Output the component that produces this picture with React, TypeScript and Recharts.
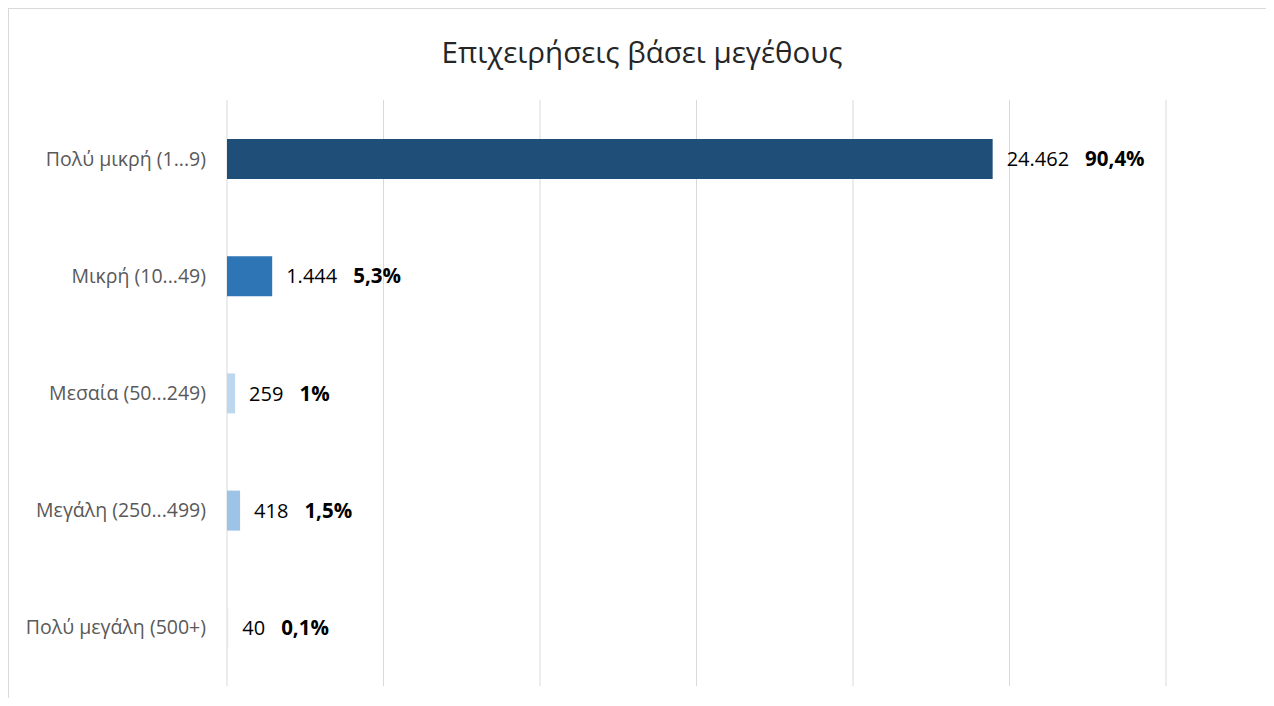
import React from "react";
import { BarChart, Bar, XAxis, YAxis, CartesianGrid, Cell, LabelList } from "recharts";

const categories = [
  "Πολύ μικρή (1...9)",
  "Μικρή (10...49)",
  "Μεσαία (50...249)",
  "Μεγάλη (250...499)",
  "Πολύ μεγάλη (500+)",
];
const counts = [24462, 1444, 259, 418, 40];
const shares = ["90,4%", "5,3%", "1%", "1,5%", "0,1%"];
const xTicks = [0, 5000, 10000, 15000, 20000, 25000, 30000];

const barColors = ["#1F4E79", "#2E75B6", "#BDD7EE", "#9DC3E6", "#DEEBF7"];
const FONT = "'Open Sans', 'Noto Sans', sans-serif";

const data = categories.map((name, i) => ({ name, value: counts[i], share: shares[i] }));

const fmt = (v: number) => v.toLocaleString("de-DE");

const ValueLabel = (props: any) => {
  const { x, y, width, height, index } = props;
  const d = data[index];
  return (
    <text
      x={x + width + 14}
      y={y + height / 2}
      dy="0.36em"
      fontFamily={FONT}
      fontSize={20}
      fill="#000"
    >
      <tspan>{fmt(d.value)}</tspan>
      <tspan dx={16} fontSize={20.5} fontWeight="bold">{d.share}</tspan>
    </text>
  );
};

export default function App() {
  return (
    <div style={{ width: 1266, height: 690, overflow: "hidden" }}>
      <div
        style={{
          position: "relative",
          width: 1300,
          height: 720,
          borderTop: "1px solid #d9d9d9",
          borderLeft: "1px solid #d9d9d9",
          background: "#fff",
        }}
      >
        <div
          style={{
            position: "absolute",
            top: 22,
            left: 0,
            width: 1266,
            textAlign: "center",
            fontFamily: FONT,
            fontSize: 29.5,
            color: "#262626",
          }}
        >
          Επιχειρήσεις βάσει μεγέθους
        </div>
        <BarChart
          width={1266}
          height={690}
          data={data}
          layout="vertical"
          margin={{ top: 91, right: 109, left: 0, bottom: 13 }}
        >
          <CartesianGrid horizontal={false} stroke="#d9d9d9" verticalValues={xTicks} />
          <XAxis type="number" domain={[0, 30000]} ticks={xTicks} hide />
          <YAxis
            dataKey="name"
            type="category"
            width={218}
            axisLine={false}
            tickLine={false}
            tickMargin={15}
            tick={{ fill: "#595959", fontSize: 19.5, fontFamily: FONT }}
          />
          <Bar dataKey="value" barSize={40} isAnimationActive={false}>
            {data.map((_, i) => (
              <Cell key={i} fill={barColors[i]} />
            ))}
            <LabelList dataKey="value" content={ValueLabel} />
          </Bar>
        </BarChart>
      </div>
    </div>
  );
}
